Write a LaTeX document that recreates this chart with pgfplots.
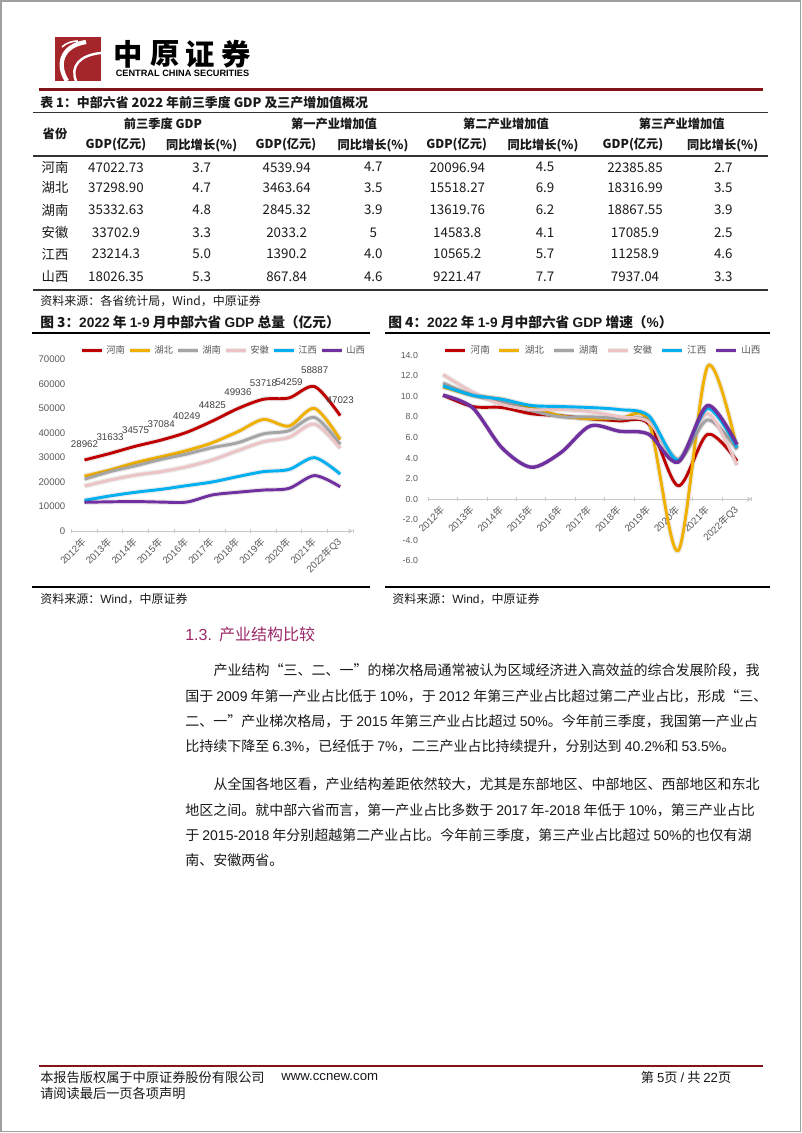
\documentclass[border=0pt]{standalone}
\usepackage{pgfplots}
\pgfplotsset{compat=1.18}
\usepackage{pgfplotstable}
\usepackage{fontspec}
\setmainfont{Noto Sans CJK SC}
\newfontfamily\lat{Liberation Sans}
\newcommand\fs[1]{\fontsize{#1}{#1}\selectfont}
\newcommand\A[1]{{\lat #1}}
\definecolor{cHN}{RGB}{192,0,0}
\definecolor{cHB}{RGB}{240,176,0}
\definecolor{cHuN}{RGB}{165,165,165}
\definecolor{cAH}{RGB}{236,196,198}
\definecolor{cJX}{RGB}{0,176,240}
\definecolor{cSX}{RGB}{112,48,160}
\definecolor{tickgray}{RGB}{89,89,89}
\definecolor{labgray}{RGB}{64,64,64}
\definecolor{axgray}{RGB}{200,200,200}
\definecolor{logored}{RGB}{165,38,42}
\definecolor{linered}{RGB}{130,20,25}
\definecolor{headc}{RGB}{155,40,105}
\definecolor{txt}{RGB}{25,25,25}

\pgfplotstableread{
x HN HB HuN AH JX SX
0 28962 22400 21100 18300 12500 11700
1 31633 24900 24200 20800 14300 11900
2 34575 27900 26600 22800 15800 12000
3 37084 30300 29200 24200 17000 11800
4 40249 32800 31400 26200 18500 11800
5 44825 36000 34000 29000 20000 14700
6 49936 40500 36000 32800 22200 15800
7 53718 45500 39600 36400 24200 16700
8 54259 42800 40900 38200 25100 17400
9 58887 50000 46300 43600 29900 22600
10 47023 37299 35333 33703 23214 18026
}\tabL

\pgfplotstableread{
x HN HB HuN AH JX SX
0 10.1 10.9 11.3 12.1 11.0 10.1
1 9.0 10.1 10.1 10.4 10.1 8.9
2 8.9 9.7 9.5 9.2 9.7 5.0
3 8.3 8.9 8.6 8.7 9.1 3.1
4 8.1 8.1 8.0 8.7 9.0 4.5
5 7.8 7.8 8.0 8.5 8.9 7.1
6 7.6 7.8 7.8 8.0 8.7 6.6
7 7.3 7.5 7.6 7.5 8.1 6.3
8 1.3 -5.0 3.8 3.9 3.8 3.6
9 6.3 12.9 7.7 8.3 8.8 9.1
10 3.7 4.9 4.8 3.3 5.0 5.3
}\tabR

\pgfplotsset{
  mychart/.style={
    scale only axis, clip=false,
    xmin=-0.5, xmax=10.5,
    axis y line=left,
    axis line style={-},
    every inner x axis line/.append style={-},
    every outer x axis line/.append style={-},
    y axis line style={draw=none},
    x axis line style={-, draw=axgray, line width=0.7pt},
    tick align=outside,
    xtick={0,...,10},
    xticklabels={{\A{2012}年},{\A{2013}年},{\A{2014}年},{\A{2015}年},{\A{2016}年},{\A{2017}年},{\A{2018}年},{\A{2019}年},{\A{2020}年},{\A{2021}年},{\A{2022}年\A{Q3}}},
    xtick style={draw=none},
    extra x ticks={-0.5,0.5,...,10.5},
    extra x tick labels={},
    extra x tick style={xtick style={draw=axgray, line width=0.7pt}, major tick length=3pt},
    ytick style={draw=none},
    /pgf/number format/assume math mode=true,
    xticklabel style={rotate=45, anchor=east, font=\fs{7.3}, text=tickgray, yshift=-3pt},
    legend columns=6,
    legend image code/.code={\draw[#1, preaction={draw=none}] (0pt,0pt) -- (15pt,0pt);},
    every axis plot/.append style={smooth, line width=2.2pt,
      preaction={draw=black, draw opacity=0.08, line width=4pt}},
  }
}

\begin{document}
\begin{tikzpicture}
\begin{scope}[x=0.75pt,y=-0.75pt]
\fill[white] (0,0) rectangle (802,1133);
\path[use as bounding box] (0,0) rectangle (802,1133);
\draw[gray!75, line width=1.2pt] (1,1) rectangle (800.5,1131.5);

% ---------- logo ----------
\fill[logored] (55,37) rectangle (101,81);
\draw[white, line width=3.2pt] (67,81) .. controls (57,66) and (60,46) .. (86,42);
\draw[white, line width=1.8pt] (76,81) .. controls (70,66) and (80,55) .. (101,53);
\draw[white, line width=1.2pt] (62,47) .. controls (66,43) and (72,41) .. (78,41);
\begin{scope}[every node/.style={inner sep=0pt}]
\node at (128.3,54) {\fs{22}\bfseries 中};
\node at (165,54) {\fs{22}\bfseries 原};
\node at (200,54) {\fs{22}\bfseries 证};
\node at (235.8,54) {\fs{22}\bfseries 券};
\node at (182.5,73.3) {\lat\bfseries\fs{6.9}CENTRAL CHINA SECURITIES};
\end{scope}
\draw[linered, line width=1.6pt] (39,89.5) -- (763,89.5);

% ---------- table ----------
\begin{scope}[every node/.style={inner sep=0pt, text=txt}]
\node[anchor=west] at (40,102.7) {\fs{9.7}\bfseries 表 1：中部六省 2022 年前三季度 GDP 及三产增加值概况};
\draw[black!80, line width=1.2pt] (32.7,112.3) -- (768.3,112.3);
\node at (163,124) {\fs{9.2}\bfseries 前三季度 GDP};
\node at (334,124) {\fs{9.2}\bfseries 第一产业增加值};
\node at (506,124) {\fs{9.2}\bfseries 第二产业增加值};
\node at (681.7,124) {\fs{9.2}\bfseries 第三产业增加值};
\node at (55,134) {\fs{9.2}\bfseries 省份};
\foreach \xx in {116,286,456.7,633} {\node at (\xx,145) {\fs{9.2}\bfseries GDP(亿元)};}
\foreach \xx in {201.7,373,543,722.7} {\node at (\xx,145) {\fs{9.2}\bfseries 同比增长(\%)};}
\draw[black!80, line width=1.5pt] (32.7,156) -- (768.3,156);
\foreach \yy/\n/\a/\b/\c/\d/\e/\f/\g/\h in {
 167.3/河南/47022.73/3.7/4539.94/4.7/20096.94/4.5/22385.85/2.7,
 187.7/湖北/37298.90/4.7/3463.64/3.5/15518.27/6.9/18316.99/3.5,
 210/湖南/35332.63/4.8/2845.32/3.9/13619.76/6.2/18867.55/3.9,
 232.7/安徽/33702.9/3.3/2033.2/5/14583.8/4.1/17085.9/2.5,
 254/江西/23214.3/5.0/1390.2/4.0/10565.2/5.7/11258.9/4.6,
 276.7/山西/18026.35/5.3/867.84/4.6/9221.47/7.7/7937.04/3.3} {
  \node at (55,\yy) {\fs{10}\n};
  \node at (116,\yy) {\fs{10}\a};
  \node at (201.7,\yy) {\fs{10}\b};
  \node at (286.7,\yy) {\fs{10}\c};
  \node at (373.3,\yy) {\fs{10}\d};
  \node at (457.3,\yy) {\fs{10}\e};
  \node at (545,\yy) {\fs{10}\f};
  \node at (635,\yy) {\fs{10}\g};
  \node at (723.3,\yy) {\fs{10}\h};
}
\draw[black!80, line width=1.5pt] (32.7,290) -- (768.3,290);
\node[anchor=west] at (40,300.7) {\fs{9}资料来源：各省统计局，Wind，中原证券};

% chart titles and frames
\node[anchor=west] at (40,322.7) {\fs{10.3}\bfseries 图 3：\A{2022} 年 \A{1-9} 月中部六省 \A{GDP} 总量（亿元）};
\node[anchor=west] at (388,322.7) {\fs{10.3}\bfseries 图 4：\A{2022} 年 \A{1-9} 月中部六省 \A{GDP} 增速（\A{\%}）};
\draw[black, line width=1.5pt] (32.3,333) -- (370,333);
\draw[black, line width=1.5pt] (385,333) -- (770,333);
\draw[black, line width=1.5pt] (32.3,586.7) -- (370,586.7);
\draw[black, line width=1.5pt] (385,586.7) -- (770,586.7);
\node[anchor=west] at (40,599) {\fs{9}资料来源：\A{Wind}，中原证券};
\node[anchor=west] at (392,599) {\fs{9}资料来源：\A{Wind}，中原证券};
\end{scope}

% ---------- body text ----------
\begin{scope}[every node/.style={inner sep=0pt, anchor=west, text=txt}]
\node at (185,634) {\fs{12}\color{headc}\A{1.3.}\ \ 产业结构比较};
\node at (213.3,670) {\fs{10.5}产业结构“三、二、一”的梯次格局通常被认为区域经济进入高效益的综合发展阶段，我};
\node at (185,696) {\fs{10.5}国于 \A{2009} 年第一产业占比低于 \A{10\%}，于 \A{2012} 年第三产业占比超过第二产业占比，形成“三、};
\node at (185,721.7) {\fs{10.5}二、一”产业梯次格局，于 \A{2015} 年第三产业占比超过 \A{50\%}。今年前三季度，我国第一产业占};
\node at (185,746.7) {\fs{10.5}比持续下降至 \A{6.3\%}，已经低于 \A{7\%}，二三产业占比持续提升，分别达到 \A{40.2\%}和 \A{53.5\%}。};
\node at (213.3,784) {\fs{10.5}从全国各地区看，产业结构差距依然较大，尤其是东部地区、中部地区、西部地区和东北};
\node at (185,810) {\fs{10.5}地区之间。就中部六省而言，第一产业占比多数于 \A{2017} 年\A{-2018} 年低于 \A{10\%}，第三产业占比};
\node at (185,835.7) {\fs{10.5}于 \A{2015-2018} 年分别超越第二产业占比。今年前三季度，第三产业占比超过 \A{50\%}的也仅有湖};
\node at (185,860) {\fs{10.5}南、安徽两省。};

% ---------- footer ----------
\draw[linered, line width=1.6pt] (39,1065.7) -- (763,1065.7);
\node at (40,1077.3) {\fs{9.9}本报告版权属于中原证券股份有限公司};
\node at (281,1077.3) {\lat\fs{9.9}www.ccnew.com};
\node at (40,1093.3) {\fs{9.9}请阅读最后一页各项声明};
\node at (640.7,1077.3) {\fs{9.9}第 \A{5}页 \A{/} 共 \A{22}页};
\end{scope}
\end{scope}

% ---------- left chart ----------
\begin{axis}[mychart,
  at={(53.775pt,-398.25pt)}, anchor=south west,
  width=210.98pt, height=128.78pt,
  ymin=0, ymax=70000,
  axis x line=bottom,
  ytick={0,10000,...,70000},
  scaled y ticks=false,
  yticklabel style={font=\lat\fs{7.2}, text=tickgray, xshift=3pt},
  y tick label style={/pgf/number format/1000 sep={}},
  legend style={draw=none, fill=none, at={(0.538,1.05)}, anchor=center,
    font=\fs{7}, text=tickgray, nodes={inner sep=1.5pt},
    /tikz/every even column/.append style={column sep=0pt}},
]
\addplot[cHN, nodes near coords, point meta=explicit symbolic,
  every node near coord/.append style={font=\lat\fs{7.3}, text=labgray, anchor=south, yshift=5pt}]
  table[x=x,y=HN,meta=HN] {\tabL};
\addplot[cHB] table[x=x,y=HB] {\tabL};
\addplot[cHuN] table[x=x,y=HuN] {\tabL};
\addplot[cAH] table[x=x,y=AH] {\tabL};
\addplot[cJX] table[x=x,y=JX] {\tabL};
\addplot[cSX] table[x=x,y=SX] {\tabL};
\legend{河南,湖北,湖南,安徽,江西,山西}
\end{axis}

% ---------- right chart ----------
\begin{axis}[mychart,
  at={(321.225pt,-420.675pt)}, anchor=south west,
  width=242.55pt, height=154.4pt,
  ymin=-6, ymax=14,
  axis x line=middle,
  ytick={-6,-4,...,14},
  yticklabel style={font=\lat\fs{6.6}, text=tickgray},
  y tick label style={/pgf/number format/fixed, /pgf/number format/fixed zerofill, /pgf/number format/precision=1},
  legend style={draw=none, fill=none, at={(0.54,1.022)}, anchor=center,
    font=\fs{7.2}, text=tickgray,
    /tikz/every even column/.append style={column sep=3.2pt}},
]
\addplot[cHN] table[x=x,y=HN] {\tabR};
\addplot[cHB] table[x=x,y=HB] {\tabR};
\addplot[cHuN] table[x=x,y=HuN] {\tabR};
\addplot[cAH] table[x=x,y=AH] {\tabR};
\addplot[cJX] table[x=x,y=JX] {\tabR};
\addplot[cSX, line width=2.6pt] table[x=x,y=SX] {\tabR};
\legend{河南,湖北,湖南,安徽,江西,山西}
\end{axis}
\end{tikzpicture}
\end{document}
